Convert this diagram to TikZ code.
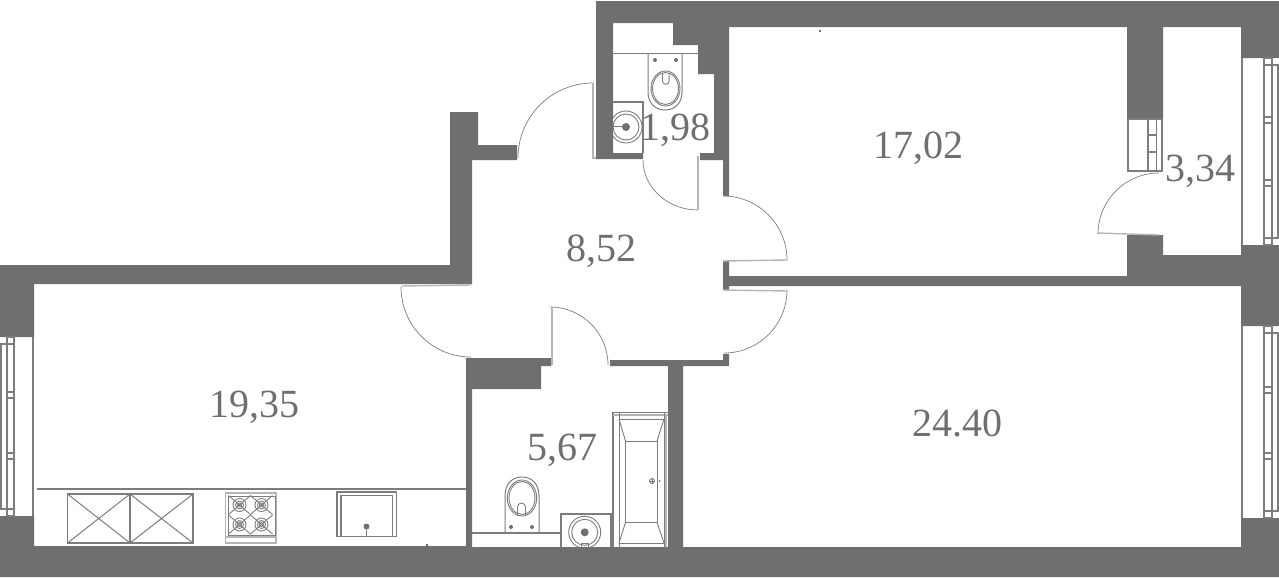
\documentclass[tikz,border=0pt]{standalone}
\usepackage{fontspec}
\setmainfont{Liberation Serif}
\definecolor{wallgray}{HTML}{6F6F6F}
\definecolor{linegray}{HTML}{7D7D7D}
\definecolor{leafgray}{HTML}{B5B5B5}
\newcommand{\framewindow}[8]{
\draw[heavy] (#1,#5) -- (#1,#6);
\draw[frame] (#2,#5) rectangle (#3,#6);
\draw[frame] (#3,#5+7) rectangle (#4,#6-7);
\draw[frame] (#2,#5+7) -- (#3,#5+7);
\draw[frame] (#2,#6-7) -- (#3,#6-7);
\draw[frame] (#2,#7) rectangle (#3,#7+6);
\draw[frame] (#2,#8) rectangle (#3,#8+6);
}
\begin{document}
\begin{tikzpicture}[x=0.5pt,y=-0.5pt]
\tikzstyle{wall}=[fill=wallgray,draw=none]
\tikzstyle{area}=[text=wallgray,inner sep=0pt,font=\fontsize{20}{24}\selectfont]
\tikzstyle{swing}=[draw=linegray,line width=0.35pt]
\tikzstyle{leaf}=[draw=leafgray,line width=0.7pt]
\tikzstyle{thin}=[draw=linegray,line width=0.45pt]
\tikzstyle{frame}=[draw=linegray,line width=0.9pt]
\tikzstyle{heavy}=[draw=linegray,line width=1pt]
\useasboundingbox (0,0) rectangle (1279,578);
% walls
\path[wall] (596,1) -- (1279,1) -- (1279,58) -- (1241,58) -- (1241,27) -- (1163,27) -- (1163,119) -- (1127,119) -- (1127,27) -- (729,27) -- (729,196) -- (723,196) -- (723,160) -- (700,160) -- (700,153) -- (714,153) -- (714,74) -- (698,74) -- (698,45) -- (673,45) -- (673,23) -- (613,23) -- (613,153) -- (643,153) -- (643,159) -- (596,159) -- cycle;
\path[wall] (1127,235) -- (1163,235) -- (1163,255) -- (1241,255) -- (1241,245) -- (1279,245) -- (1279,326) -- (1241,326) -- (1241,286) -- (729,286) -- (729,290) -- (723,290) -- (723,261) -- (729,261) -- (729,276) -- (1127,276) -- cycle;
\path[wall] (1241,518) -- (1279,518) -- (1279,577) -- (0,577) -- (0,516) -- (34,516) -- (34,546) -- (466,546) -- (466,358) -- (551,358) -- (551,366) -- (541,366) -- (541,389) -- (472,389) -- (472,547) -- (668,547) -- (668,366) -- (610,366) -- (610,360) -- (723,360) -- (723,354) -- (729,354) -- (729,366) -- (683,366) -- (683,547) -- (1241,547) -- cycle;
\path[wall] (0,265) -- (450,265) -- (450,112) -- (478,112) -- (478,145) -- (517,145) -- (517,160) -- (472,160) -- (472,284) -- (34,284) -- (34,337) -- (0,337) -- cycle;
% windows
\framewindow{1242}{1264}{1272}{1278}{58}{245}{117}{180}
\framewindow{1242}{1264}{1272}{1278}{326}{518}{387}{453}
\framewindow{33}{14}{7}{1}{337}{516}{392}{453}
% doors
\draw[swing] (401,287) arc[start angle=180,end angle=90,radius=70];
\draw[leaf] (401,286) -- (471,285);
\draw[swing] (608,365) arc[start angle=0,end angle=-90,radius=58];
\draw[leaf] (552,307) -- (552,365);
\draw[swing] (787,290) arc[start angle=0,end angle=90,radius=63];
\draw[leaf] (723,290) -- (787,291);
\draw[swing] (723,196) arc[start angle=-90,end angle=0,radius=64];
\draw[leaf] (723,261) -- (787,260);
\draw[swing] (643,160) arc[start angle=180,end angle=90,x radius=55,y radius=50];
\draw[leaf] (698,156) -- (698,210);
\draw[swing] (518,158) arc[start angle=180,end angle=270,radius=75];
\draw[leaf] (593,83) -- (593,158) -- (596,158);
\draw[swing] (1159,173) arc[start angle=-90,end angle=-180,radius=61];
\draw[leaf] (1097,233) -- (1159,235);
% closet
\draw[frame] (1128,119) rectangle (1162,171);
\draw[frame] (1148,119) -- (1148,171);
\draw[frame] (1156.5,119) -- (1156.5,171);
\draw[frame] (1148,135) -- (1156.5,135);
\draw[frame] (1148,152) -- (1156.5,152);
\node (mark a) at (820,31) [fill=wallgray,inner sep=0.4pt] {};
% wc
\draw[thin] (613,53) -- (698,53);
\draw[frame,line width=0.5pt] (648,53) -- (648,92) .. controls (648,104) and (656,110) .. (665,110) .. controls (674,110) and (682,104) .. (682,92) -- (682,53);
\draw[thin] (665.5,88.5) ellipse [x radius=14.5,y radius=17.5];
\draw[thin] (665.5,88.5) ellipse [x radius=13,y radius=16];
\draw[thin] (662.5,72.5) -- (662.5,81) arc[start angle=180,end angle=0,radius=3.3] -- (669,72.5);
\fill[wallgray] (655,60) circle (1pt) (676,60) circle (1pt);
\draw[frame,line width=1pt] (613,102) -- (643,102) -- (643,153);
\begin{scope}
\clip (613,102) rectangle (643,153);
\draw[thin] (626,127) circle (16);
\draw[thin] (626,127) circle (13);
\end{scope}
\fill[wallgray] (626,127) circle (4);
\draw[thin] (613,126) -- (622,126);
% kitchen
\draw[frame] (37,489) -- (466,489);
\foreach \xa/\xb in {67.5/130,130/193} {
\draw[frame] (\xa,494) rectangle (\xb,543);
\draw[thin,line width=0.5pt] (\xa,494) -- (\xb,543) (\xa,543) -- (\xb,494);
}
\draw[leaf] (225.5,493) rectangle (276,543);
\draw[leaf] (225.5,537) -- (276,537);
\draw[thin] (228,496) rectangle (275,535);
\foreach \cx in {239.5,261.5} {
\foreach \cy in {505,524.5} {
\draw[thin] (\cx-11,\cy-9.5) -- (\cx+11,\cy+9.5) (\cx-11,\cy+9.5) -- (\cx+11,\cy-9.5);
\draw[thin] (\cx,\cy) circle (6.5);
\draw[thin] (\cx,\cy) circle (4);
\draw[thin] (\cx,\cy) circle (2);
}
}
\draw[frame] (337,492) rectangle (396.5,536.5);
\draw[frame] (341,536) -- (341,495.5) -- (392.5,495.5) -- (392.5,536);
\fill[wallgray] (366.5,526.5) circle (3);
\draw[frame] (366.5,526.5) -- (366.5,536);
\node (mark b) at (427,544.5) [fill=wallgray,inner sep=0.4pt] {};
% bathroom
\draw[leaf,draw=linegray] (472,533) -- (560,533);
\draw[frame,line width=0.5pt] (505,533) -- (505,496) .. controls (505,484) and (512,477) .. (522,477) .. controls (532,477) and (539,484) .. (539,496) -- (539,533) -- cycle;
\draw[thin] (522,498) ellipse [x radius=14.7,y radius=18];
\draw[thin] (522,498) ellipse [x radius=13,y radius=16.5];
\draw[thin] (517.5,516) -- (517.5,507) arc[start angle=180,end angle=360,radius=4] -- (525.5,516);
\fill[wallgray] (511,527) circle (1pt) (532,527) circle (1pt);
\begin{scope}
\clip (560,513) rectangle (611,546);
\draw[thin] (584.7,532.3) circle (16);
\draw[thin] (584.7,532.3) circle (13);
\end{scope}
\draw[frame,line width=1pt] (560.5,547) -- (560.5,513.5) -- (611,513.5) -- (611,547);
\fill[wallgray] (584.7,532.3) circle (4);
\draw[thin] (581,547) -- (581,543) -- (588,543) -- (588,547);
\draw[frame] (613,547) -- (613,412.5) -- (668,412.5);
\draw[leaf] (613,415) -- (668,415);
\draw[thin] (619,547) -- (619,413);
\draw[thin] (664,547) -- (664,413);
\draw[leaf] (666,415) -- (666,547);
\draw[thin] (619,419) -- (664,419);
\draw[thin] (619,543) -- (664,543);
\draw[thin] (625.5,441) rectangle (657,522.5);
\draw[thin] (619,419) -- (625.5,441) (664,419) -- (657,441) (619,543) -- (625.5,522.5) (664,543) -- (657,522.5);
\draw[thin] (652,481) circle (2.5);
\draw[thin] (649.5,481) -- (654.5,481) (652,478.5) -- (652,483.5);
\fill[wallgray] (659.5,481) circle (0.5pt);
% areas
\node (wc area) at (675,130) [area] {1,98};
\node (room area) at (918,148) [area] {17,02};
\node (balcony area) at (1200,171) [area] {3,34};
\node (hall area) at (601,251) [area] {8,52};
\node (kitchen area) at (254,407) [area] {19,35};
\node (bedroom area) at (957,423) [area] {24.40};
\node (bath area) at (562,450) [area] {5,67};
\end{tikzpicture}
\end{document}
